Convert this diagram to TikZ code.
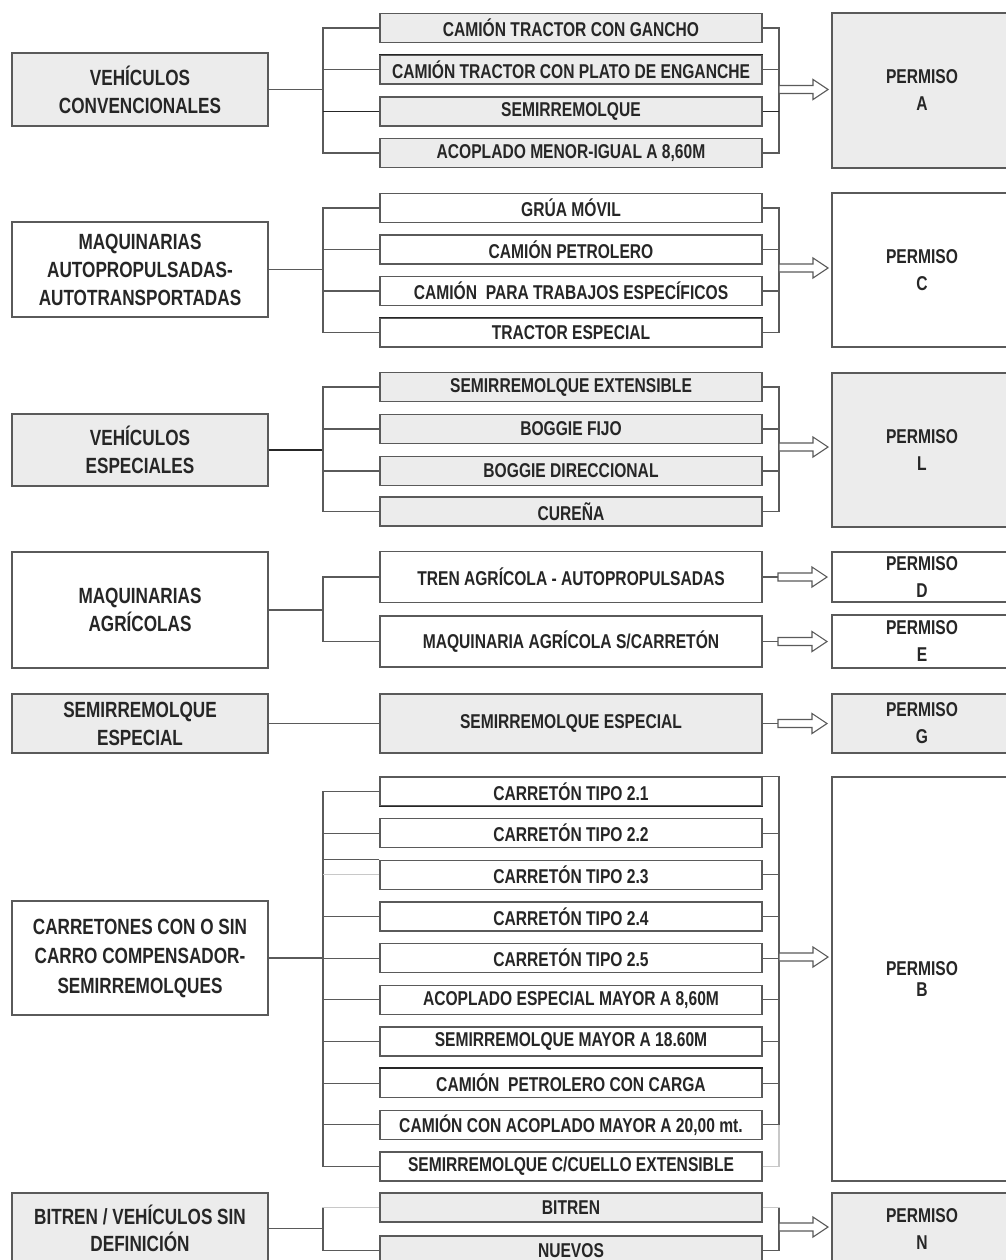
\documentclass[tikz,border=0pt]{standalone}
\usepackage{fontspec}
\newfontfamily\nf{Liberation Sans}[FakeStretch=0.78]
\usetikzlibrary{calc}
\definecolor{gf}{HTML}{ECECEC}
\definecolor{ln}{HTML}{5A5A5A}
\definecolor{lt}{HTML}{C8C8C8}
\newcommand\harrow[1]{\draw[harr] (#1) ++(0,-4) -- ++(34,0) -- ++(0,-6) -- ++(15,10) -- ++(-15,10) -- ++(0,-6) -- ++(-34,0) -- cycle;}
\begin{document}
\begin{tikzpicture}[x=1pt,y=-1pt,
 box/.style={draw=ln, line width=1.3pt, inner sep=0pt, align=center, text=black!85},
 lbox/.style={box, minimum width=256pt, font=\nf\bfseries\fontsize{22}{28}\selectfont},
 sbox/.style={box, minimum width=382pt, minimum height=29pt, font=\nf\bfseries\fontsize{20}{27}\selectfont},
 pbox/.style={box, minimum width=180pt, font=\nf\bfseries\fontsize{20}{27}\selectfont},
 conn/.style={draw=ln, line width=1.2pt},
 dk/.style={conn, draw=black!85},
 ltl/.style={conn, draw=lt},
 harr/.style={draw=ln, line width=1.1pt, fill=white, line join=miter},
]
\fill[white] (0,0) rectangle (1005,1260);
\useasboundingbox (0,0) rectangle (1005,1260);

% ---------- left boxes
\node[lbox, fill=gf, minimum height=73pt] (L1) at (140,89.5) {VEHÍCULOS\\CONVENCIONALES};
\node[lbox, fill=white, minimum height=95pt] (L2) at (140,269.5) {MAQUINARIAS\\AUTOPROPULSADAS-\\AUTOTRANSPORTADAS};
\node[lbox, fill=gf, minimum height=72pt] (L3) at (140,450) {VEHÍCULOS\\ESPECIALES};
\node[lbox, fill=white, minimum height=116pt] (L4) at (140,610) {MAQUINARIAS\\AGRÍCOLAS};
\node[lbox, fill=gf, minimum height=59pt] (L5) at (140,723.5) {SEMIRREMOLQUE\\ESPECIAL};
\node[lbox, fill=white, minimum height=114pt, font=\nf\bfseries\fontsize{22}{29.5}\selectfont] (L6) at (140,958) {CARRETONES CON O SIN\\CARRO COMPENSADOR-\\SEMIRREMOLQUES};
\node[lbox, fill=gf, minimum height=71pt, font=\nf\bfseries\fontsize{22}{27}\selectfont] (L7) at (140,1228.5) {BITREN / VEHÍCULOS SIN\\DEFINICIÓN};

% ---------- sub boxes
\foreach \i/\yy/\t in {1/28/{CAMIÓN TRACTOR CON GANCHO},2/69.5/{CAMIÓN TRACTOR CON PLATO DE ENGANCHE},3/111.5/{SEMIRREMOLQUE},4/153/{ACOPLADO MENOR-IGUAL A 8,60M}}
  \node[sbox, fill=gf] (s1\i) at (571,\yy) {\t};
\foreach \i/\yy/\t in {1/208/{GRÚA MÓVIL},2/249.5/{CAMIÓN PETROLERO},3/291/{CAMIÓN\ \ PARA TRABAJOS ESPECÍFICOS},4/332.5/{TRACTOR ESPECIAL}}
  \node[sbox, fill=white] (s2\i) at (571,\yy) {\t};
\foreach \i/\yy/\t in {1/387/{SEMIRREMOLQUE EXTENSIBLE},2/429/{BOGGIE FIJO},3/471/{BOGGIE DIRECCIONAL},4/511.5/{CUREÑA}}
  \node[sbox, fill=gf] (s3\i) at (571,\yy) {\t};
\node[sbox, fill=white, minimum height=51pt] (s41) at (571,577) {TREN AGRÍCOLA - AUTOPROPULSADAS};
\node[sbox, fill=white, minimum height=51pt] (s42) at (571,641.5) {MAQUINARIA AGRÍCOLA S/CARRETÓN};
\node[sbox, fill=gf, minimum height=59pt] (s51) at (571,723.5) {SEMIRREMOLQUE ESPECIAL};
\foreach \i/\t in {1/{CARRETÓN TIPO 2.1},2/{CARRETÓN TIPO 2.2},3/{CARRETÓN TIPO 2.3},4/{CARRETÓN TIPO 2.4},5/{CARRETÓN TIPO 2.5},6/{ACOPLADO ESPECIAL MAYOR A 8,60M},7/{SEMIRREMOLQUE MAYOR A 18.60M},8/{CAMIÓN\ \ PETROLERO CON CARGA},9/{CAMIÓN CON ACOPLADO MAYOR A 20,00 mt.},10/{SEMIRREMOLQUE C/CUELLO EXTENSIBLE}}
  \node[sbox, fill=white] (s6\i) at (571,{791.5+41.67*(\i-1)}) {\t};
\node[sbox, fill=gf] (s71) at (571,1207.5) {BITREN};
\node[sbox, fill=gf] (s72) at (571,1250.5) {NUEVOS};

% darker edges
\draw[dk] (s12.north west) -- (s12.north east);
\draw[dk] (s24.north west) -- (s24.north east);
\draw[dk] (s61.south west) -- (s61.south east);
\draw[dk] (s68.north west) -- (s68.north east);

% ---------- permiso boxes
\node[pbox, fill=gf, minimum height=155pt] (PA) at (922,90.5) {PERMISO\\A};
\node[pbox, fill=white, minimum height=154pt] (PC) at (922,270) {PERMISO\\C};
\node[pbox, fill=gf, minimum height=154pt] (PL) at (922,450) {PERMISO\\L};
\node[pbox, fill=white, minimum height=50pt] (PD) at (922,577) {PERMISO\\D};
\node[pbox, fill=white, minimum height=53pt] (PE) at (922,641.5) {PERMISO\\E};
\node[pbox, fill=gf, minimum height=59pt] (PG) at (922,723.5) {PERMISO\\G};
\node[pbox, fill=white, minimum height=404pt, font=\nf\bfseries\fontsize{20}{20.5}\selectfont] (PB) at (922,979) {PERMISO\\B};
\node[pbox, fill=gf, minimum height=72pt] (PN) at (922,1229) {PERMISO\\N};

% ---------- bus coordinates
\coordinate (b1) at (323,89.5);  \coordinate (r1) at (779,89.5);
\coordinate (b2) at (323,269.5); \coordinate (r2) at (779,268);
\coordinate (b3) at (323,450);   \coordinate (r3) at (779,447);
\coordinate (b4) at (323,610);
\coordinate (aD) at (778,577);   \coordinate (aE) at (778,641.5);
\coordinate (aG) at (778,723.5);
\coordinate (b6) at (323,958);   \coordinate (r6) at (779,957);
\coordinate (b7) at (323,1228.5);  \coordinate (r7) at (779,1227);

% section 1
\draw[conn] (L1.east) -- (L1.east -| b1);
\foreach \i in {1,2,4} { \draw[conn] (s1\i.west) -| (b1); \draw[conn] (s1\i.east) -| (r1); }
\draw[dk] (s13.west) -- (s13.west -| b1);
\draw[dk] (s13.east) -- (s13.east -| r1);
\harrow{r1}

% section 2
\draw[conn] (L2.east) -- (L2.east -| b2);
\foreach \i in {1,2,3,4} { \draw[conn] (s2\i.west) -| (b2); \draw[conn] (s2\i.east) -| (r2); }
\harrow{r2}

% section 3
\draw[dk] (L3.east) -- (L3.east -| b3);
\foreach \i in {1,2,3,4} { \draw[conn] (s3\i.west) -| (b3); \draw[conn] (s3\i.east) -| (r3); }
\harrow{r3}

% section 4
\draw[conn] (L4.east) -- (L4.east -| b4);
\draw[conn] (s41.west) -| (b4);
\draw[conn] (s42.west) -| (b4);
\draw[conn] (s41.east) -- (aD); \harrow{aD}
\draw[conn] (s42.east) -- (aE); \harrow{aE}

% section 5
\draw[conn] (L5.east) -- (s51.west);
\draw[conn] (s51.east) -- (aG); \harrow{aG}

% section 6
\draw[ltl] (s610.east) -| (r6);
\draw[conn] (L6.east) -- (L6.east -| b6);
\foreach \i in {1,2,4,5,6,7,8,9,10} { \draw[conn] (s6\i.west) -| (b6); }
\draw[conn] (s63.north west) -- (s63.north west -| b6);
\draw[ltl] (s63.west) -- (s63.west -| b6);
\draw[conn] (s61.north east) -| (r6);
\foreach \i in {2,3,4,5,6,7,8,9} { \draw[conn] (s6\i.east) -| (r6); }
\harrow{r6}

% section 7
\draw[conn] (L7.east) -- (L7.east -| b7);
\draw[ltl] (s71.west) -| (b7);
\draw[conn] (b7) -- (b7 |- s71.west);
\draw[conn] (s72.west) -| (b7);
\draw[ltl] (s71.east) -| (r7);
\draw[conn] (r7) -- (r7 |- s71.east);
\draw[conn] (s72.east) -| (r7);
\harrow{r7}
\end{tikzpicture}
\end{document}
